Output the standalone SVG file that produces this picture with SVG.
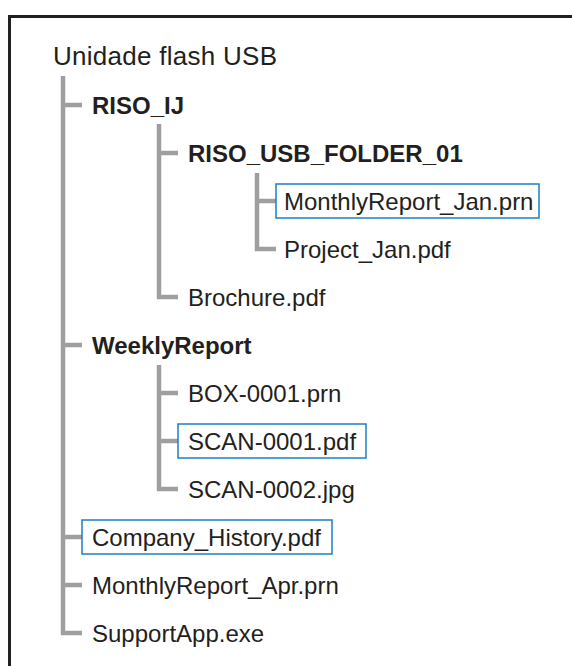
<svg xmlns="http://www.w3.org/2000/svg" width="572" height="666" viewBox="0 0 572 666">
<style>
text{font-family:"Liberation Sans",Arial,sans-serif;font-size:24px;fill:#231f20}
.b{font-weight:bold}
.h{font-size:26px}
.ln{stroke:#9f9fa0;stroke-width:4.5;fill:none}
.sel{fill:none;stroke:#1b7fc4;stroke-width:1.5}
.frame{stroke:#231f20;stroke-width:3;fill:none}
</style>
<rect width="572" height="666" fill="#ffffff"/>
<path class="frame" d="M9.5 666 V16.5 H572"/>
<g id="connectors">
<path class="ln" d="M63 76 V633 H82"/>
<path class="ln" d="M63 105 H82 M63 345 H82 M63 537 H82 M63 585 H82"/>
<path class="ln" d="M159 124 V297 H178 M159 153 H178"/>
<path class="ln" d="M257 173 V249 H276 M257 201 H276"/>
<path class="ln" d="M159 365 V489 H178 M159 393 H178 M159 441 H178"/>
</g>
<g id="root"><text x="53" y="65" class="h" textLength="224" lengthAdjust="spacing">Unidade flash USB</text></g>
<g id="riso_ij"><text x="92" y="113.5" class="b">RISO_IJ</text></g>
<g id="riso_usb_folder_01"><text x="188" y="161.5" class="b">RISO_USB_FOLDER_01</text></g>
<g id="monthlyreport_jan"><rect class="sel" x="276" y="184" width="263" height="34"/><text x="284" y="209.5">MonthlyReport_Jan.prn</text></g>
<g id="project_jan"><text x="284" y="257.5">Project_Jan.pdf</text></g>
<g id="brochure"><text x="188" y="305.5">Brochure.pdf</text></g>
<g id="weeklyreport"><text x="92" y="353.5" class="b">WeeklyReport</text></g>
<g id="box_0001"><text x="188" y="401.5">BOX-0001.prn</text></g>
<g id="scan_0001"><rect class="sel" x="178" y="424" width="188" height="34"/><text x="188" y="449.5">SCAN-0001.pdf</text></g>
<g id="scan_0002"><text x="188" y="497.5">SCAN-0002.jpg</text></g>
<g id="company_history"><rect class="sel" x="82" y="520" width="250" height="34"/><text x="92" y="545.5">Company_History.pdf</text></g>
<g id="monthlyreport_apr"><text x="92" y="593.5">MonthlyReport_Apr.prn</text></g>
<g id="supportapp"><text x="92" y="641.5">SupportApp.exe</text></g>
</svg>
